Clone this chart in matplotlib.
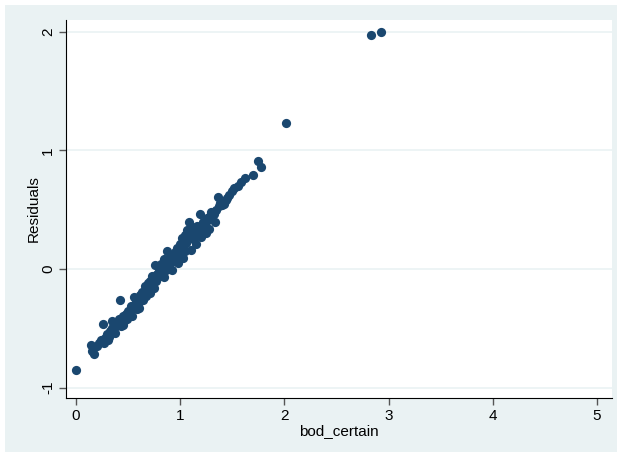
import matplotlib.pyplot as plt
from matplotlib.patches import Rectangle

bod_certain = [
    0.00, 0.14, 0.15, 0.17, 0.20, 0.22, 0.24, 0.26, 0.27, 0.28,
    0.30, 0.31, 0.33, 0.35, 0.35, 0.37, 0.38, 0.40, 0.41, 0.42,
    0.43, 0.45, 0.46, 0.48, 0.49, 0.50, 0.52, 0.53, 0.54, 0.55,
    0.56, 0.57, 0.58, 0.59, 0.60, 0.61, 0.62, 0.63, 0.64, 0.65,
    0.66, 0.67, 0.68, 0.69, 0.70, 0.71, 0.72, 0.73, 0.74, 0.75,
    0.76, 0.77, 0.78, 0.79, 0.80, 0.81, 0.82, 0.83, 0.84, 0.85,
    0.86, 0.87, 0.88, 0.89, 0.90, 0.91, 0.92, 0.93, 0.94, 0.95,
    0.96, 0.97, 0.98, 0.99, 1.00, 1.01, 1.02, 1.03, 1.04, 1.05,
    1.06, 1.07, 1.08, 1.09, 1.10, 1.11, 1.12, 1.14, 1.15, 1.16,
    1.18, 1.19, 1.20, 1.21, 1.22, 1.24, 1.26, 1.27, 1.29, 1.30,
    1.32, 1.34, 1.36, 1.37, 1.38, 1.40, 1.42, 1.44, 1.45, 1.47,
    1.50, 1.52, 1.55, 1.58, 1.62, 1.70, 1.75, 1.78, 2.02, 2.83,
    2.93, 0.60, 0.75, 0.90, 1.05, 1.20, 0.45, 0.32, 0.66, 0.95,
    0.92, 0.98, 1.03, 1.10, 1.15, 1.25, 1.28, 0.84, 0.71, 1.33,
]

residuals = [
    -0.85, -0.64, -0.69, -0.72, -0.65, -0.62, -0.60, -0.46, -0.62, -0.58,
    -0.55, -0.60, -0.52, -0.50, -0.44, -0.54, -0.48, -0.46, -0.42, -0.26,
    -0.48, -0.40, -0.44, -0.38, -0.42, -0.35, -0.36, -0.31, -0.40, -0.33,
    -0.24, -0.30, -0.26, -0.34, -0.28, -0.22, -0.25, -0.19, -0.26, -0.20,
    -0.14, -0.23, -0.16, -0.12, -0.18, -0.10, -0.15, -0.06, -0.12, -0.08,
    0.03, -0.10, -0.04, -0.07, 0.00, -0.05, 0.04, -0.02, 0.08, 0.02,
    -0.01, 0.15, 0.05, 0.03, 0.09, 0.06, 0.12, 0.08, 0.10, 0.14,
    0.11, 0.18, 0.13, 0.16, 0.21, 0.17, 0.26, 0.20, 0.23, 0.29,
    0.22, 0.33, 0.40, 0.27, 0.30, 0.35, 0.25, 0.31, 0.28, 0.36,
    0.33, 0.46, 0.36, 0.31, 0.40, 0.38, 0.43, 0.41, 0.45, 0.48,
    0.46, 0.50, 0.61, 0.53, 0.56, 0.54, 0.55, 0.58, 0.60, 0.62,
    0.66, 0.68, 0.70, 0.73, 0.77, 0.79, 0.91, 0.86, 1.23, 1.97,
    2.00, -0.33, -0.16, 0.00, 0.15, 0.27, -0.47, -0.57, -0.23, 0.07,
    -0.01, 0.05, 0.09, 0.16, 0.21, 0.30, 0.34, -0.07, -0.20, 0.40,
]

x_ticks = [0, 1, 2, 3, 4, 5]
y_ticks = [-1, 0, 1, 2]

plt.rcParams['font.family'] = ['Liberation Sans', 'DejaVu Sans']

fig = plt.figure(figsize=(6.21, 4.57), dpi=100, facecolor='white')
fig.patches.append(Rectangle((5 / 621, 5 / 457), 612 / 621, 447 / 457,
                             transform=fig.transFigure, facecolor='#EAF2F3',
                             edgecolor='none', zorder=-10))

ax = fig.add_axes([66 / 621, 1 - 398 / 457, 546 / 621, 378 / 457])
ax.set_zorder(5)
ax.set_facecolor('white')

ax.scatter(bod_certain, residuals, s=44, color='#1A476F', linewidths=0, zorder=3)

ax.set_xlim(-0.096, 5.144)
ax.set_ylim(-1.087, 2.098)
ax.set_xticks(x_ticks)
ax.set_yticks(y_ticks)
ax.set_yticklabels([str(v) for v in y_ticks], rotation=90, va='center')

ax.grid(axis='y', color='#EAF2F3', linewidth=1.2, zorder=1)
ax.grid(axis='x', visible=False)
ax.set_axisbelow(True)

for side in ['top', 'right']:
    ax.spines[side].set_visible(False)
ax.spines['left'].set_color('black')
ax.spines['bottom'].set_color('black')
ax.spines['left'].set_linewidth(0.8)
ax.spines['bottom'].set_linewidth(0.8)
ax.tick_params(direction='out', length=5, width=1, color='#555555',
               labelsize=11, pad=3)

ax.set_xlabel('bod_certain', fontsize=11, labelpad=1)
ax.set_ylabel('Residuals', fontsize=11, labelpad=0)

fig.savefig('out.png', dpi=100, facecolor='white')
